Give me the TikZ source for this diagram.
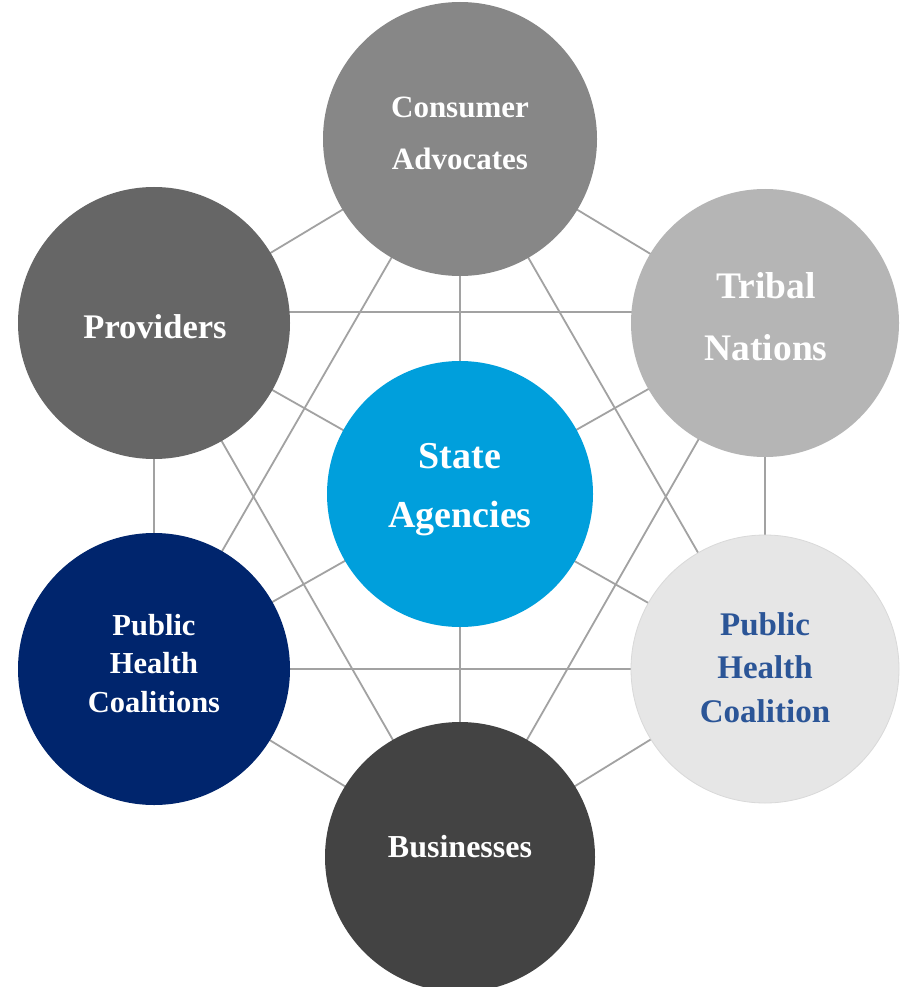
\documentclass[tikz,border=0pt]{standalone}
\usepackage{fontspec}
\setmainfont{Liberation Serif}
\usetikzlibrary{backgrounds}
\definecolor{provc}{HTML}{666666}
\definecolor{consc}{HTML}{878787}
\definecolor{tribc}{HTML}{B5B5B5}
\definecolor{phcrc}{HTML}{E6E6E6}
\definecolor{phclc}{HTML}{00256D}
\definecolor{busc}{HTML}{434343}
\definecolor{statec}{HTML}{009FDC}
\definecolor{linec}{HTML}{A2A2A2}
\definecolor{bluetext}{HTML}{2B5597}
\tikzset{
  hub/.style={circle, draw=none, inner sep=0pt, minimum size=#1},
  link/.style={draw=linec, line width=1.8pt},
  lbl/.style={anchor=base, inner sep=0pt, text=white, font=\bfseries\fontsize{#1pt}{#1pt}\selectfont},
}
\begin{document}
\begin{tikzpicture}[x=1pt,y=-1pt]
\useasboundingbox (0,0) rectangle (905,987);
% circles
\node[hub=272pt, fill=provc] (prov) at (154,323) {};
\node[hub=274pt, fill=consc] (cons) at (460,139) {};
\node[hub=268pt, fill=tribc] (trib) at (765,323) {};
\node[hub=268pt, fill=phcrc, draw=black!15, line width=0.8pt] (phcr) at (765,669) {};
\node[hub=272pt, fill=phclc] (phcl) at (154,669) {};
\node[hub=270pt, fill=busc] (bus) at (460,857) {};
\node[hub=266pt, fill=statec] (state) at (460,494) {};
% connectors (behind circles)
\begin{pgfonlayer}{background}
\fill[white] (0,0) rectangle (905,987);
\draw[link] ([yshift=11pt]prov.center) -- ([yshift=11pt]trib.center);
\draw[link] (prov.center) -- (cons.center);
\draw[link] (prov.center) -- (phcl.center);
\draw[link] (prov.center) -- (bus.center);
\draw[link] (prov.center) -- (phcr.center);
\draw[link] (cons.center) -- (trib.center);
\draw[link] (cons.center) -- (phcr.center);
\draw[link] (cons.center) -- (bus.center);
\draw[link] (cons.center) -- (phcl.center);
\draw[link] (trib.center) -- (phcr.center);
\draw[link] (trib.center) -- (bus.center);
\draw[link] (trib.center) -- (phcl.center);
\draw[link] (phcr.center) -- (bus.center);
\draw[link] (phcr.center) -- (phcl.center);
\draw[link] (phcl.center) -- (bus.center);
\end{pgfonlayer}
% labels
\node[lbl=31] (t1a) at (460,118) {Consumer};
\node[lbl=31] (t1b) at (460,170) {Advocates};
\node[lbl=37.5] (t2a) at (766,298) {Tribal};
\node[lbl=37.5] (t2b) at (766,360) {Nations};
\node[lbl=38] (t3a) at (460,468) {State};
\node[lbl=38] (t3b) at (460,527) {Agencies};
\node[lbl=33, text=bluetext] (t4a) at (765,635) {Public};
\node[lbl=33, text=bluetext] (t4b) at (765,678) {Health};
\node[lbl=33, text=bluetext] (t4c) at (765,722) {Coalition};
\node[lbl=30.5] (t5a) at (154,635) {Public};
\node[lbl=30.5] (t5b) at (154,673) {Health};
\node[lbl=30.5] (t5c) at (154,712) {Coalitions};
\node[lbl=34.5] (t6) at (155,338) {Providers};
\node[lbl=32] (t7) at (460,857) {Businesses};
\end{tikzpicture}
\end{document}
